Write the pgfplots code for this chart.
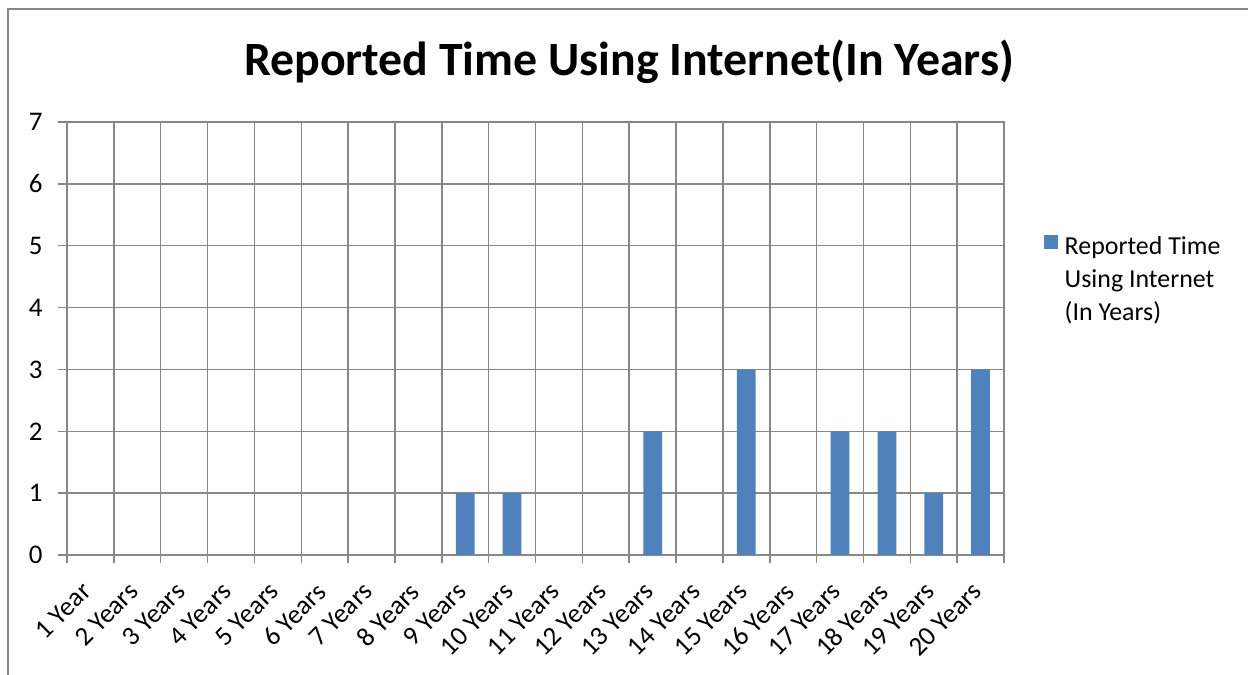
\documentclass[border=0pt]{standalone}
\usepackage{pgfplots}
\pgfplotsset{compat=1.18}
\usepackage{fontspec}
\setmainfont{Carlito}
\definecolor{barblue}{HTML}{4F81BD}
\definecolor{gridgray}{HTML}{878787}
\begin{document}
\begin{tikzpicture}
  \begin{axis}[
    at={(67bp,120bp)}, anchor=south west,
    width=937bp, height=433bp, scale only axis,
    xmin=0.5, xmax=20.5, ymin=0, ymax=7,
    ytick={0,...,7},
    xtick={1,...,20},
    xticklabels={1 Year,2 Years,3 Years,4 Years,5 Years,6 Years,7 Years,8 Years,9 Years,10 Years,11 Years,12 Years,13 Years,14 Years,15 Years,16 Years,17 Years,18 Years,19 Years,20 Years},
    minor xtick={0.5,1.5,...,20.5},
    major x tick style={draw=none},
    xminorgrids=true, ymajorgrids=true,
    tick pos=left,
    tick align=outside,
    major tick length=9bp, minor tick length=8bp,
    every tick/.style={gridgray, line width=1.5bp},
    grid style={gridgray, line width=1.5bp},
    minor grid style={gridgray, line width=1.5bp},
    axis line style={gridgray, line width=1.5bp},
    /pgf/number format/assume math mode=true,
    tick label style={font=\fontsize{27}{31}\selectfont, black},
    xticklabel style={xshift=-10bp, yshift=-12bp, rotate=45, anchor=north east},
    yticklabel style={xshift=-12bp},
    ybar, bar width=0.4,
    legend style={at={(1.039,0.745)}, anchor=north west, draw=none, fill=none,
      font=\fontsize{26}{33}\selectfont, cells={align=left}},
    legend image code/.code={
      \fill[barblue] (0bp,30bp) rectangle (14bp,44bp);
      \path[draw=none, fill=none] (0bp,30bp) rectangle (19bp,44bp);},
  ]
    \addplot[fill=barblue, draw=none] coordinates {
      (1,0) (2,0) (3,0) (4,0) (5,0) (6,0) (7,0) (8,0) (9,1) (10,1)
      (11,0) (12,0) (13,2) (14,0) (15,3) (16,0) (17,2) (18,2) (19,1) (20,3)
    };
    \addlegendentry{Reported Time\\Using Internet\\(In Years)}
  \end{axis}
  % chart title and outer frame
  \node[font=\fontsize{48}{56}\selectfont\bfseries] at (629bp,613bp) {Reported Time Using Internet(In Years)};
  \draw[gridgray, line width=2bp] (7.5bp,0bp) -- (7.5bp,665.5bp) -- (1248bp,665.5bp);
  \pgfresetboundingbox
  \useasboundingbox (0bp,0bp) rectangle (1248bp,675bp);
\end{tikzpicture}
\end{document}
